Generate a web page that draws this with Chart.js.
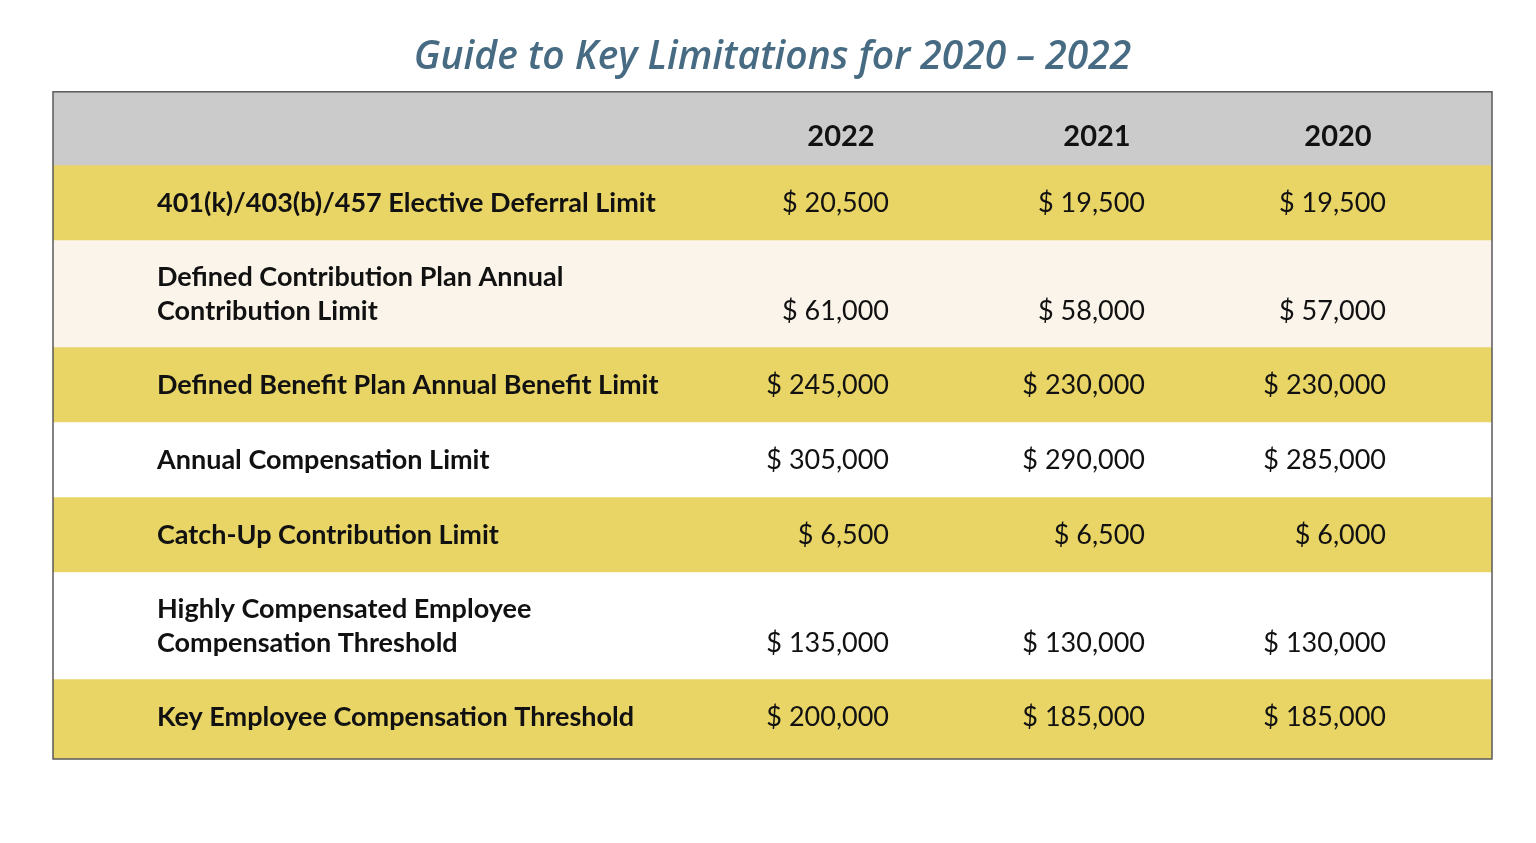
<!DOCTYPE html>
<html>
<head>
<meta charset="utf-8">
<script src="https://cdn.jsdelivr.net/npm/chart.js@4.4.1/dist/chart.umd.min.js"></script>
<style>
    html, body { margin: 0; padding: 0; background: #ffffff; }
    #wrap { width: 1536px; height: 843px; }
</style>
</head>
<body>
<div id="wrap"><canvas id="chart1" width="1536" height="843"></canvas></div>
<script>
const titleText = "Guide to Key Limitations for 2020 \u2013 2022";
const years = ["2022", "2021", "2020"];
const rowLabels = [
    ["401(k)/403(b)/457 Elective Deferral Limit"],
    ["Defined Contribution Plan Annual", "Contribution Limit"],
    ["Defined Benefit Plan Annual Benefit Limit"],
    ["Annual Compensation Limit"],
    ["Catch-Up Contribution Limit"],
    ["Highly Compensated Employee", "Compensation Threshold"],
    ["Key Employee Compensation Threshold"]
];
const values2022 = [20500, 61000, 245000, 305000, 6500, 135000, 200000];
const values2021 = [19500, 58000, 230000, 290000, 6500, 130000, 185000];
const values2020 = [19500, 57000, 230000, 285000, 6000, 130000, 185000];
const valueColumns = [values2022, values2021, values2020];

// styling / layout
const headerColor = "#cbcbcb";
const rowColors = ["#e9d566", "#fbf4ea", "#e9d566", "#ffffff", "#e9d566", "#ffffff", "#e9d566"];
const headerSpan = 73;
const lineSpan = 32;
const singleSpan = 75;
const bottomPad = 5;
const textNudge = 1;
const labelX = 104;              // in xText units (px inside the table box)
const valueRight = [836, 1092, 1333];
const headerOffset = 48;

function fmt(v) {
    return "$ " + v.toLocaleString("en-US");
}

// build row bands (y units, top to bottom)
let bands = [];
let pos = 0;
bands.push({ from: 0, to: headerSpan, color: headerColor });
pos = headerSpan;
rowLabels.forEach((lines, i) => {
    const span = singleSpan + lineSpan * (lines.length - 1);
    bands.push({ from: pos, to: pos + span, color: rowColors[i] });
    pos += span;
});
const totalSpan = pos + bottomPad;

const datasets = bands.map((b, i) => ({
    data: [[b.from, i === bands.length - 1 ? totalSpan : b.to]],
    backgroundColor: b.color,
    borderWidth: 0,
    grouped: false,
    barPercentage: 1,
    categoryPercentage: 1,
    xAxisID: 'x',
    yAxisID: 'y'
}));

const tablePlugin = {
    id: 'tableText',
    afterDatasetsDraw(chart) {
        const c = chart.ctx;
        const ys = chart.scales.y;
        const xs = chart.scales.xText;
        const area = chart.chartArea;

        c.save();
        c.fillStyle = "#111111";
        c.textBaseline = "middle";

        // header years
        c.font = "bold 29px Lato";
        c.textAlign = "center";
        const hy = ys.getPixelForValue((bands[0].from + bands[0].to) / 2 + 8);
        years.forEach((yr, j) => {
            c.fillText(yr, xs.getPixelForValue(valueRight[j] - headerOffset), hy);
        });

        // rows
        rowLabels.forEach((lines, i) => {
            const b = bands[i + 1];
            const mid = (b.from + b.to) / 2 + textNudge;
            const step = lineSpan + 2;
            const firstLine = mid - (lines.length - 1) * step / 2;
            c.font = "bold 27px Lato";
            c.textAlign = "left";
            let lastY = 0;
            lines.forEach((ln, k) => {
                lastY = ys.getPixelForValue(firstLine + k * step);
                c.fillText(ln, xs.getPixelForValue(labelX), lastY);
            });
            c.font = "27px Lato";
            c.textAlign = "right";
            valueColumns.forEach((col, j) => {
                c.fillText(fmt(col[i]), xs.getPixelForValue(valueRight[j]), lastY);
            });
        });

        // table border
        c.strokeStyle = "#5a5a5a";
        c.lineWidth = 1.5;
        c.strokeRect(area.left, area.top, area.right - area.left, area.bottom - area.top);
        c.restore();
    }
};

const ctx = document.getElementById('chart1');
new Chart(ctx, {
    type: 'bar',
    data: {
        labels: [''],
        datasets: datasets
    },
    options: {
        responsive: false,
        animation: false,
        devicePixelRatio: 1,
        layout: {
            padding: { left: 53, right: 44, top: 0, bottom: 84 }
        },
        scales: {
            x: { display: false, grid: { display: false } },
            xText: { type: 'linear', display: false, offset: false, min: 0, max: 1439 },
            y: { display: false, reverse: true, min: 0, max: totalSpan, grid: { display: false } }
        },
        plugins: {
            legend: { display: false },
            tooltip: { enabled: false },
            title: {
                display: true,
                text: titleText,
                color: "#476b82",
                font: { family: "Open Sans", size: 39, style: "italic", weight: "600" },
                padding: { top: 34, bottom: 11 }
            }
        }
    },
    plugins: [tablePlugin]
});
</script>
</body>
</html>
